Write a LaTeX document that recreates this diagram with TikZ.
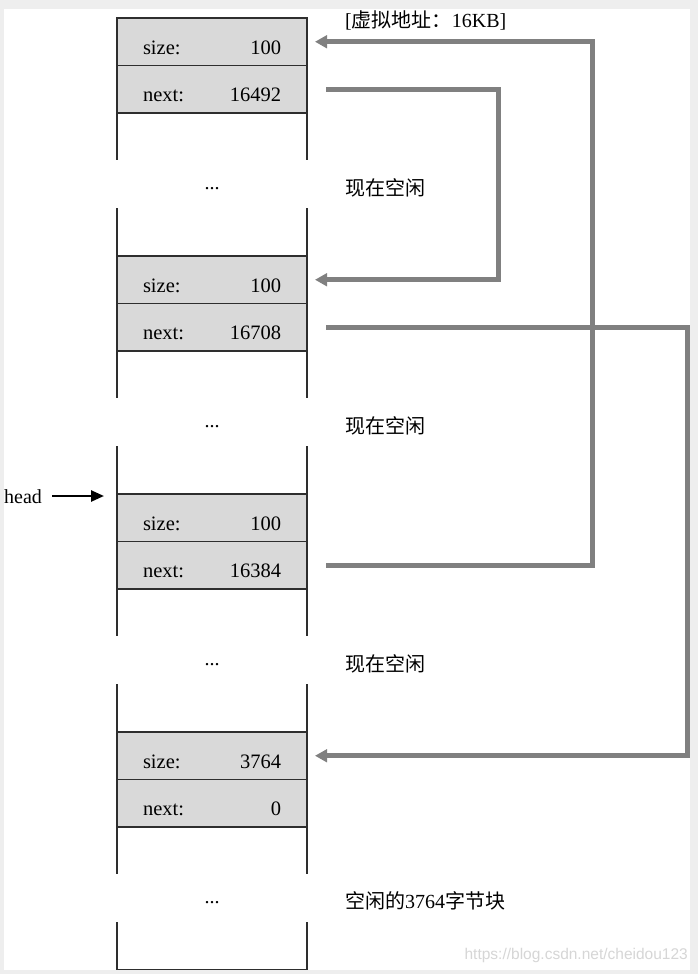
\documentclass[tikz,border=0pt]{standalone}
\usepackage{fontspec}
\setmainfont{Liberation Serif}
\newfontfamily\cjk{Noto Sans CJK SC}
\newfontfamily\wmfont{Liberation Sans}
\usetikzlibrary{arrows.meta}
\definecolor{cellfill}{HTML}{D9D9D9}
\definecolor{edge}{HTML}{2E2E2E}
\definecolor{conncol}{HTML}{808080}
\definecolor{bggray}{HTML}{EEEEEE}
\begin{document}
\begin{tikzpicture}[x=1pt,y=-1pt,
  cell/.style={draw=edge,line width=1.3pt,fill=cellfill,minimum width=190pt,minimum height=47.5pt,inner sep=0pt,outer sep=0pt,text height=25pt,text depth=0pt,font=\fontsize{20.5}{22}\selectfont},
  colline/.style={draw=edge,line width=1.3pt},
  conn/.style={draw=conncol,line width=5pt,-{Triangle[length=12pt,width=12.5pt]}},
  lbl/.style={anchor=west,inner sep=0pt,font=\fontsize{20}{22}\selectfont},
  dots/.style={anchor=base,inner sep=0pt,font=\fontsize{20}{22}\selectfont}]
\useasboundingbox (0,0) rectangle (698,974);
\fill[bggray] (0,0) rectangle (698,974);
\fill[white] (4,9) rectangle (690,970);
% blocks
\foreach \b/\T/\sv/\nv in {1/18/100/16492, 2/256/100/16708, 3/494/100/16384, 4/732/3764/0}{
  \node[cell] (s\b) at (212,\T+23.75) {\hbox to 138pt{size:\hfill \sv}};
  \node[cell] (n\b) at (212,\T+71.25) {\hbox to 138pt{next:\hfill \nv}};
  \draw[colline] (117,\T+95) -- (117,\T+142) (307,\T+95) -- (307,\T+142);
  \draw[colline] (117,\T+190) -- (117,\T+238) (307,\T+190) -- (307,\T+238);
  \node[dots] (d\b) at (212,\T+171) {...};
}
\draw[colline,line width=1.8pt] (116.35,969.5) -- (307.65,969.5);
% labels
\node[lbl] (va) at (345,20) {[{\cjk 虚拟地址：}16KB]};
\node[lbl] (f1) at (345,188) {\cjk 现在空闲};
\node[lbl] (f2) at (345,426) {\cjk 现在空闲};
\node[lbl] (f3) at (345,664) {\cjk 现在空闲};
\node[lbl] (f4) at (345,901) {{\cjk 空闲的}3764{\cjk 字节块}};
% head
\node[anchor=base west,inner sep=0pt,font=\fontsize{20}{22}\selectfont] (head) at (4,503) {head};
\coordinate (headtip) at (104,496);
\draw[line width=2.5pt,-{Triangle[length=13pt,width=11pt]}] (52,496) -- (headtip);
% connectors
\draw[conn] ([xshift=19pt]n1.east) -- ++(172,0) |- ([xshift=8pt]s2.east);
\draw[conn] ([xshift=19pt]n3.east) -- ++(266,0) |- ([xshift=8pt]s1.east);
\draw[conn] ([xshift=19pt]n2.east) -- ++(361,0) |- ([xshift=8pt]s4.east);
% watermark
\node[anchor=east,inner sep=0pt,text=black!16,font=\wmfont\fontsize{15.5}{17}\selectfont] (wm) at (688,955) {https://blog.csdn.net/cheidou123};
\end{tikzpicture}
\end{document}
